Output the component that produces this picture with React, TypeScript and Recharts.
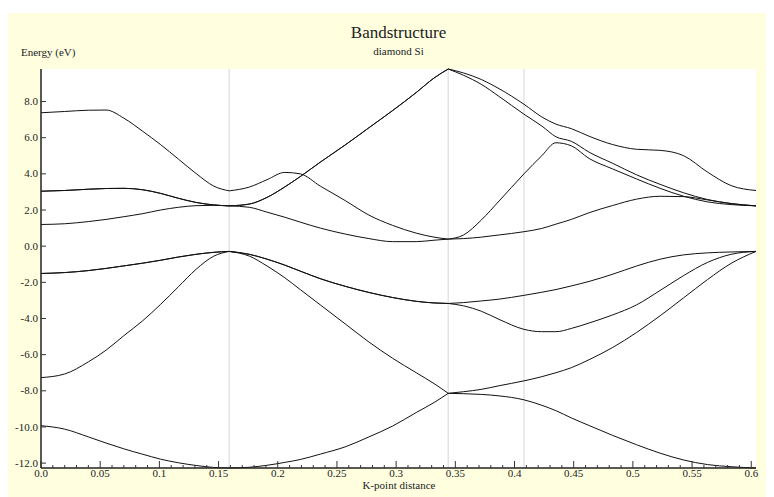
import { LineChart, Line, XAxis, YAxis, ReferenceLine, CartesianGrid } from 'recharts';

// k-path L - Gamma - X - U|K - Gamma (distance)
const kPoints = [
  0, 0.02, 0.04, 0.055, 0.07, 0.086, 0.101, 0.116, 0.131, 0.146, 0.159,
  0.176, 0.191, 0.206, 0.219, 0.236, 0.257, 0.277, 0.297, 0.317, 0.332, 0.344,
  0.357, 0.372, 0.387, 0.408, 0.423, 0.435, 0.448, 0.463, 0.483, 0.503, 0.523, 0.543, 0.563, 0.583, 0.604,
];

// energies (eV) per band at each k-point
const band1 = [
  -9.93, -10.12, -10.55, -10.89, -11.21, -11.51, -11.78, -11.98, -12.13, -12.24, -12.27,
  -12.23, -12.12, -11.96, -11.8, -11.5, -11.1, -10.55, -9.95, -9.2, -8.65, -8.14,
  -8.16, -8.2, -8.28, -8.5, -8.8, -9.1, -9.5, -9.92, -10.47, -10.98, -11.45, -11.83, -12.08, -12.2, -12.27,
];
const band2 = [
  -7.27, -7.07, -6.4, -5.75, -4.95, -4.12, -3.22, -2.25, -1.28, -0.55, -0.29,
  -0.55, -1.1, -1.75, -2.4, -3.25, -4.3, -5.3, -6.2, -7.0, -7.6, -8.14,
  -8.05, -7.92, -7.72, -7.45, -7.22, -7.0, -6.72, -6.28, -5.6, -4.78, -3.85, -2.85, -1.85, -0.95, -0.29,
];
const band3 = [
  -1.51, -1.46, -1.35, -1.23, -1.09, -0.94, -0.78, -0.6, -0.45, -0.34, -0.29,
  -0.45, -0.72, -1.05, -1.38, -1.8, -2.22, -2.56, -2.84, -3.05, -3.14, -3.17,
  -3.3, -3.6, -4.05, -4.6, -4.73, -4.73, -4.55, -4.25, -3.8, -3.25, -2.45, -1.62, -0.9, -0.45, -0.29,
];
const band4 = [
  -1.51, -1.46, -1.35, -1.23, -1.09, -0.94, -0.78, -0.6, -0.45, -0.34, -0.29,
  -0.45, -0.72, -1.05, -1.38, -1.8, -2.22, -2.56, -2.84, -3.05, -3.14, -3.17,
  -3.12, -3.03, -2.93, -2.72, -2.55, -2.4, -2.2, -1.95, -1.55, -1.1, -0.72, -0.48, -0.37, -0.32, -0.29,
];
const band5 = [
  1.2, 1.24, 1.36, 1.48, 1.63, 1.8, 2.0, 2.15, 2.24, 2.26, 2.23,
  2.15, 1.88, 1.6, 1.33, 1.0, 0.67, 0.42, 0.25, 0.25, 0.33, 0.39,
  0.42, 0.5, 0.62, 0.8, 0.98, 1.22, 1.48, 1.85, 2.25, 2.6, 2.76, 2.74, 2.56, 2.36, 2.23,
];
const band6 = [
  3.04, 3.08, 3.15, 3.19, 3.2, 3.12, 2.92, 2.65, 2.42, 2.28, 2.23,
  2.33, 2.7, 3.28, 3.85, 4.65, 5.6, 6.55, 7.5, 8.5, 9.3, 9.8,
  9.45, 8.95, 8.28, 7.3, 6.65, 6.05, 5.8, 5.2, 4.58, 3.95, 3.42, 2.95, 2.58, 2.35, 2.23,
];
const band7 = [
  3.04, 3.08, 3.15, 3.19, 3.2, 3.12, 2.92, 2.65, 2.42, 2.28, 2.23,
  2.33, 2.7, 3.28, 3.85, 4.65, 5.6, 6.55, 7.5, 8.5, 9.3, 9.8,
  9.58, 9.22, 8.71, 7.85, 7.15, 6.75, 6.5, 6.08, 5.62, 5.36, 5.3, 5.0, 4.1, 3.35, 3.08,
];
const band8 = [
  7.38, 7.45, 7.52, 7.53, 7.08, 6.35, 5.62, 4.82, 4.02, 3.32, 3.06,
  3.27, 3.68, 4.08, 4.0, 3.32, 2.52, 1.72, 1.15, 0.72, 0.5, 0.39,
  0.62, 1.45, 2.5, 4.0, 5.0, 5.72, 5.55, 4.85, 4.27, 3.72, 3.2, 2.76, 2.45, 2.3, 2.23,
];

const bands = [band1, band2, band3, band4, band5, band6, band7, band8];

// high-symmetry points drawn as grey verticals (Gamma, X, U|K)
const symmetryPoints = [0.159, 0.344, 0.408];
// path pieces between symmetry points, as index ranges into kPoints
const segments = [[0, 11], [10, 22], [21, 37]];

const xMajorTicks = [0, 0.05, 0.1, 0.15, 0.2, 0.25, 0.3, 0.35, 0.4, 0.45, 0.5, 0.55, 0.6];
const xTickLabels = ['0.0', '0.05', '0.1', '0.15', '0.2', '0.25', '0.3', '0.35', '0.4', '0.45', '0.5', '0.55', '0.6'];
const yTicks = [-12, -10, -8, -6, -4, -2, 0, 2, 4, 6, 8];
const yTickLabels = ['-12.0', '-10.0', '-8.0', '-6.0', '-4.0', '-2.0', '0.0', '2.0', '4.0', '6.0', '8.0'];

const rows = kPoints.map((k, i) => {
  const r: any = { k };
  bands.forEach((b, j) => {
    r['b' + (j + 1)] = b[i];
  });
  return r;
});

// minor ticks every 0.01 between the labelled ones
const xTicks: number[] = [];
xMajorTicks.forEach((t, i) => {
  xTicks.push(t);
  if (i < xMajorTicks.length - 1) {
    for (let m = 1; m < 5; m++) xTicks.push(+(t + m * 0.01).toFixed(2));
  }
});

const serif = { fontFamily: '"Liberation Serif", serif' };
const ink = '#222';

const majorIndex = (v: number) => xMajorTicks.findIndex((t) => Math.abs(t - v) < 1e-6);

function BottomTick({ x, y, payload }: any) {
  const i = majorIndex(payload.value);
  return (
    <g>
      <line x1={x} x2={x} y1={y} y2={y - (i >= 0 ? 7 : 3)} stroke="#333" />
      {i >= 0 && (
        <text x={x} y={y + 9} textAnchor="middle" fontSize={11} style={serif} fill={ink}>
          {xTickLabels[i]}
        </text>
      )}
    </g>
  );
}

function TopTick({ x, y, payload }: any) {
  const i = majorIndex(payload.value);
  return <line x1={x} x2={x} y1={y} y2={y + (i >= 0 ? 7 : 3)} stroke="#333" />;
}

function LeftTick({ x, y, payload }: any) {
  const i = yTicks.indexOf(payload.value);
  return (
    <g>
      <line x1={x} x2={x + 5} y1={y} y2={y} stroke="#333" />
      <text x={x - 3} y={y} dy="0.33em" textAnchor="end" fontSize={11} style={serif} fill={ink}>
        {yTickLabels[i]}
      </text>
    </g>
  );
}

function RightTick({ x, y }: any) {
  return <line x1={x} x2={x - 6} y1={y} y2={y} stroke="#333" />;
}

const W = 758;
const H = 489;

export default function App() {
  return (
    <div style={{ paddingTop: 5 }}>
      <div style={{ position: 'relative', width: W, height: H, background: '#ffffe0' }}>
        <LineChart width={W} height={484} margin={{ top: 56, right: 10, bottom: 0, left: 0 }}>
          <CartesianGrid fill="#ffffff" horizontal={false} vertical={false} stroke="none" />
          <XAxis
            dataKey="k"
            type="number"
            domain={[0, 0.604]}
            ticks={xTicks}
            interval={0}
            height={29}
            tickSize={0}
            tickMargin={0}
            tickLine={false}
            axisLine={{ stroke: ink, strokeWidth: 1.5 }}
            tick={(p: any) => <BottomTick {...p} />}
          />
          <XAxis
            xAxisId="top"
            orientation="top"
            dataKey="k"
            type="number"
            domain={[0, 0.604]}
            ticks={xTicks}
            interval={0}
            height={0}
            tickSize={0}
            tickMargin={0}
            tickLine={false}
            axisLine={{ stroke: ink, strokeWidth: 1.5 }}
            tick={(p: any) => <TopTick {...p} />}
          />
          <YAxis
            type="number"
            domain={[-12.27, 9.8]}
            ticks={yTicks}
            interval={0}
            width={33}
            tickSize={0}
            tickMargin={0}
            tickLine={false}
            axisLine={{ stroke: ink, strokeWidth: 1.5 }}
            tick={(p: any) => <LeftTick {...p} />}
          />
          <YAxis
            yAxisId="right"
            orientation="right"
            type="number"
            domain={[-12.27, 9.8]}
            ticks={yTicks}
            interval={0}
            width={0}
            tickSize={0}
            tickMargin={0}
            tickLine={false}
            axisLine={{ stroke: ink, strokeWidth: 1.5 }}
            tick={(p: any) => <RightTick {...p} />}
          />
          {symmetryPoints.map((s) => (
            <ReferenceLine key={s} x={s} stroke="#e4e4e4" strokeWidth={1.5} />
          ))}
          {bands.map((_, j) =>
            segments.map(([a, b], s) => (
              <Line
                key={`b${j}-${s}`}
                data={rows.slice(a, b)}
                dataKey={'b' + (j + 1)}
                type="monotone"
                dot={false}
                stroke="#111"
                strokeWidth={1}
                isAnimationActive={false}
              />
            ))
          )}
        </LineChart>
        <svg width={W} height={H} style={{ position: 'absolute', left: 0, top: 0, pointerEvents: 'none' }}>
          <text x={390.5} y={24.5} textAnchor="middle" fontSize={17} style={serif} fill={ink}>
            Bandstructure
          </text>
          <text x={390.5} y={42} textAnchor="middle" fontSize={11} style={serif} fill={ink}>
            diamond Si
          </text>
          <text x={13} y={43} fontSize={11} style={serif} fill={ink}>
            Energy (eV)
          </text>
          <text x={391} y={476} textAnchor="middle" fontSize={11} style={serif} fill={ink}>
            K-point distance
          </text>
        </svg>
      </div>
    </div>
  );
}
